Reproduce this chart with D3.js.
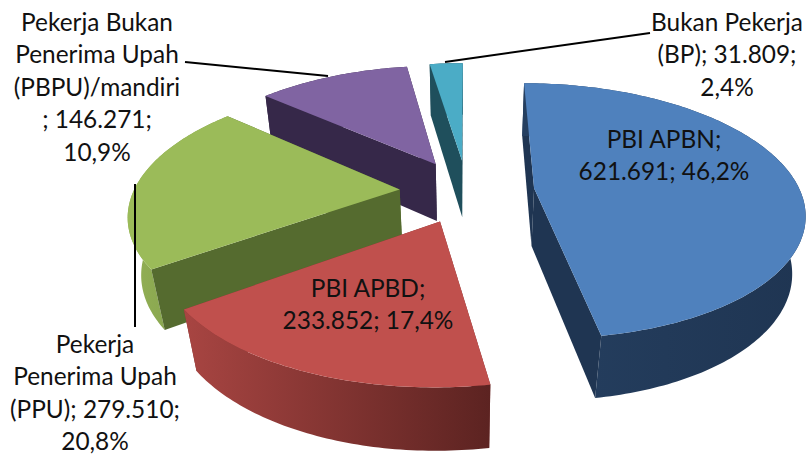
<!DOCTYPE html>
<html>
<head>
<meta charset="utf-8">
<script src="https://cdn.jsdelivr.net/npm/d3@7/dist/d3.min.js"></script>
<style>
html,body{margin:0;padding:0;background:#fff;overflow:hidden}
svg{display:block}
text{font-family:Lato,"Open Sans",sans-serif;font-size:24.4px;fill:#111;text-anchor:middle}
</style>
</head>
<body>
<svg id="chart" width="807" height="455"></svg>
<script>
// Data
const categories = ["PBI APBN", "PBI APBD", "Pekerja Penerima Upah (PPU)", "Pekerja Bukan Penerima Upah (PBPU)/mandiri", "Bukan Pekerja (BP)"];
const values = [621691, 233852, 279510, 146271, 31809];
const percentLabels = ["46,2%", "17,4%", "20,8%", "10,9%", "2,4%"];
const labelLines = [
  ["PBI APBN;", "621.691; 46,2%"],
  ["PBI APBD;", "233.852; 17,4%"],
  ["Pekerja", "Penerima Upah", "(PPU); 279.510;", "20,8%"],
  ["Pekerja Bukan", "Penerima Upah", "(PBPU)/mandiri", "; 146.271;", "10,9%"],
  ["Bukan Pekerja", "(BP); 31.809;", "2,4%"]
];

// Styles and layout
const topColors = ["#4F81BD", "#C0504D", "#9BBB59", "#8064A2", "#4BACC6"];
const sideColors = ["#1F3552", "#7E3432", "#556B2F", "#362849", "#1F4F5C"];
const arcStops = [["#253F60", "#1F3552"], ["#A84542", "#5C2321"], ["#93B055", "#7C9A48"], ["#362849", "#362849"], ["#1F4F5C", "#1F4F5C"]];
const labelAnchors = [[664, 148], [368, 297], [95, 353], [97, 31], [727, 31]];
const leaderLines = [
  [[185, 62], [328, 76]],
  [[445, 62], [650, 33]],
  [[135, 184], [135, 327]]
];
const lineHeight = 32.4;
const cx = 467, cy = 191, RX = 266, RY = 124.5, perspective = 0.176, tilt = 0.04, depth = 60, explode = 0.254;

function project(X, Y, z) {
  const w = 1 - perspective * Y + tilt * z;
  return [cx + RX * X / w, cy + (RY * Y + depth * z) / w];
}

const svg = d3.select("#chart");
const defs = svg.append("defs");
const pie = d3.pie().sort(null).startAngle(0).endAngle(2 * Math.PI);
const arcs = pie(values);
const line = d3.line();
const degree = Math.PI / 180;

const slices = arcs.map((a, i) => {
  const mid = (a.startAngle + a.endAngle) / 2;
  const ox = explode * Math.sin(mid), oy = -explode * Math.cos(mid);
  const n = Math.ceil((a.endAngle - a.startAngle) / degree);
  const rim = d3.range(n + 1).map(k => {
    const t = a.startAngle + (a.endAngle - a.startAngle) * k / n;
    return [ox + Math.sin(t), oy - Math.cos(t)];
  });
  return {i, apex: [ox, oy], rim};
});

function wallPath(points) {
  const top = points.map(p => project(p[0], p[1], 0));
  const bottom = points.map(p => project(p[0], p[1], 1)).reverse();
  return line(top.concat(bottom)) + "Z";
}

// painter's order, back to front
const order = [4, 3, 0, 2, 1];
order.forEach(i => {
  const s = slices[i];
  const g = svg.append("g").attr("class", "slice").attr("data-category", categories[i]);
  const xs = s.rim.map(p => project(p[0], p[1], 0)[0]);
  const grad = defs.append("linearGradient").attr("id", "arc" + i)
    .attr("gradientUnits", "userSpaceOnUse")
    .attr("x1", d3.min(xs)).attr("x2", d3.max(xs)).attr("y1", 0).attr("y2", 0);
  grad.append("stop").attr("offset", 0).attr("stop-color", arcStops[i][0]);
  grad.append("stop").attr("offset", 1).attr("stop-color", arcStops[i][1]);

  const first = s.rim[0], last = s.rim[s.rim.length - 1];
  const walls = [
    {pts: s.rim, fill: `url(#arc${i})`},
    {pts: [s.apex, first], fill: sideColors[i]},
    {pts: [s.apex, last], fill: sideColors[i]}
  ];
  walls.forEach(w => { w.depth = d3.mean(w.pts, p => p[1]); });
  walls.sort((a, b) => a.depth - b.depth);
  walls.forEach(w => g.append("path").attr("d", wallPath(w.pts)).attr("fill", w.fill));

  const face = [s.apex].concat(s.rim).map(p => project(p[0], p[1], 0));
  g.append("path").attr("d", line(face) + "Z").attr("fill", topColors[i]);
});

// leader lines
svg.selectAll("path.leader").data(leaderLines).join("path")
  .attr("class", "leader").attr("d", d => line(d))
  .attr("fill", "none").attr("stroke", "#000").attr("stroke-width", 2);

// labels
labelLines.forEach((lines, i) => {
  const t = svg.append("text").attr("x", labelAnchors[i][0]).attr("y", labelAnchors[i][1]);
  lines.forEach((l, k) => {
    t.append("tspan").attr("x", labelAnchors[i][0]).attr("y", labelAnchors[i][1] + k * lineHeight).text(l);
  });
});
</script>
</body>
</html>
